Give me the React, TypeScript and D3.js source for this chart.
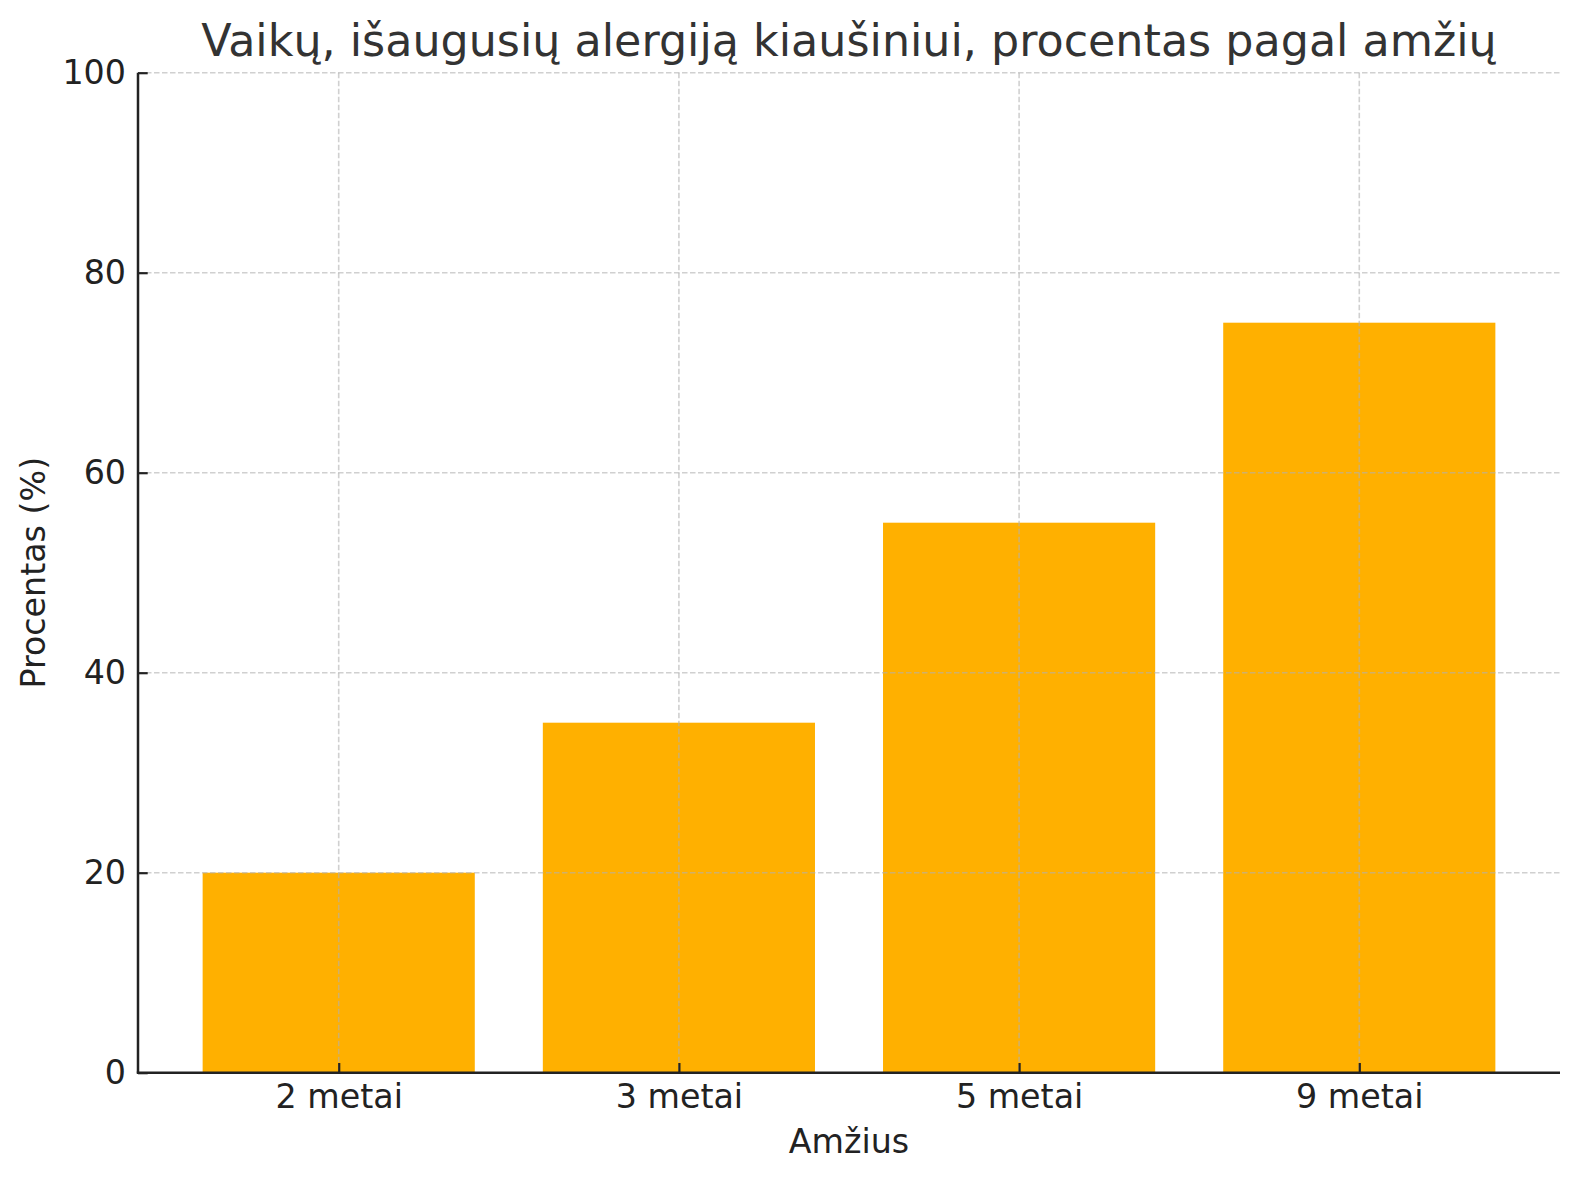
import React, { useEffect, useRef } from 'react';
import * as d3 from 'd3';

// chart data
const ages = ['2 metai', '3 metai', '5 metai', '9 metai'];
const percents = [20, 35, 55, 75];
const yTicks = [0, 20, 40, 60, 80, 100];

const title = 'Vaikų, išaugusių alergiją kiaušiniui, procentas pagal amžių';
const xTitle = 'Amžius';
const yTitle = 'Procentas (%)';

const App = () => {
  const ref = useRef<SVGSVGElement | null>(null);

  useEffect(() => {
    const svgWidth = 1580;
    const svgHeight = 1180;
    const margin = { top: 72.7, left: 138 };
    const width = 1422;
    const height = 1000;
    const font = 'DejaVu Sans, sans-serif';
    const tickLen = 9.7;

    const root = d3.select(ref.current);
    root.selectAll('*').remove();
    root.attr('width', svgWidth).attr('height', svgHeight);

    const svg = root
      .append('g')
      .attr('transform', `translate(${margin.left},${margin.top})`);

    // matplotlib-like bar positions: width 0.8, 5% margins
    const x = d3
      .scaleLinear()
      .domain([-0.59, ages.length - 1 + 0.59])
      .range([0, width]);

    const y = d3.scaleLinear().domain([0, 100]).range([height, 0]);

    const barW = x(0.8) - x(0);

    // Bars
    svg
      .selectAll('.bar')
      .data(percents)
      .enter()
      .append('rect')
      .attr('class', 'bar')
      .attr('x', (_, i) => x(i) - barW / 2)
      .attr('y', (d) => y(d))
      .attr('width', barW)
      .attr('height', (d) => height - y(d))
      .attr('fill', '#FFB000');

    // Grid on top of bars
    const grid = svg.append('g').attr('class', 'grid');
    grid
      .selectAll('.hgrid')
      .data(yTicks.filter((t) => t > 0))
      .enter()
      .append('line')
      .attr('x1', 0)
      .attr('x2', width)
      .attr('y1', (d) => y(d))
      .attr('y2', (d) => y(d))
      .attr('stroke', '#b0b0b0')
      .attr('stroke-opacity', 0.6)
      .attr('stroke-width', 1.6)
      .attr('stroke-dasharray', '5.5,2.5');
    grid
      .selectAll('.vgrid')
      .data(ages)
      .enter()
      .append('line')
      .attr('x1', (_, i) => x(i))
      .attr('x2', (_, i) => x(i))
      .attr('y1', 0)
      .attr('y2', height)
      .attr('stroke', '#b0b0b0')
      .attr('stroke-opacity', 0.6)
      .attr('stroke-width', 1.6)
      .attr('stroke-dasharray', '5.5,2.5');

    // Y axis (ticks point inward)
    const yAxis = svg
      .append('g')
      .call(
        d3
          .axisLeft(y)
          .tickValues(yTicks)
          .tickSize(-tickLen)
          .tickPadding(12)
      );
    yAxis.select('.domain').remove();
    yAxis.selectAll('.tick line').attr('stroke', '#222').attr('stroke-width', 2.2);
    yAxis
      .selectAll('.tick text')
      .attr('fill', '#222')
      .style('font-family', font)
      .style('font-size', '33.3px');

    // X axis (ticks point inward)
    const xAxis = svg
      .append('g')
      .attr('transform', `translate(0,${height})`)
      .call(
        d3
          .axisBottom(x)
          .tickValues(d3.range(ages.length))
          .tickFormat((d) => ages[d as number])
          .tickSize(-tickLen)
          .tickPadding(12)
      );
    xAxis.select('.domain').remove();
    xAxis.selectAll('.tick line').attr('stroke', '#222').attr('stroke-width', 2.2);
    xAxis
      .selectAll('.tick text')
      .attr('fill', '#222')
      .style('font-family', font)
      .style('font-size', '33.3px');

    // Spines (left and bottom)
    svg
      .append('line')
      .attr('x1', 0)
      .attr('x2', 0)
      .attr('y1', 0)
      .attr('y2', height)
      .attr('stroke', '#222')
      .attr('stroke-width', 2.5);
    svg
      .append('line')
      .attr('x1', -1.25)
      .attr('x2', width)
      .attr('y1', height)
      .attr('y2', height)
      .attr('stroke', '#222')
      .attr('stroke-width', 2.5);

    // Titles
    root
      .append('text')
      .attr('x', margin.left + width / 2)
      .attr('y', 56)
      .attr('text-anchor', 'middle')
      .attr('fill', '#333')
      .style('font-family', font)
      .style('font-size', '44.4px')
      .text(title);

    root
      .append('text')
      .attr('x', margin.left + width / 2)
      .attr('y', 1152.7)
      .attr('text-anchor', 'middle')
      .attr('fill', '#222')
      .style('font-family', font)
      .style('font-size', '33.3px')
      .text(xTitle);

    root
      .append('text')
      .attr('transform', `translate(45,${margin.top + height / 2}) rotate(-90)`)
      .attr('text-anchor', 'middle')
      .attr('fill', '#222')
      .style('font-family', font)
      .style('font-size', '33.3px')
      .text(yTitle);
  }, []);

  return (
    <svg
      ref={ref}
      width={1580}
      height={1180}
      style={{ position: 'absolute', left: 0, top: 0, background: '#fff' }}
    />
  );
};

export default App;
